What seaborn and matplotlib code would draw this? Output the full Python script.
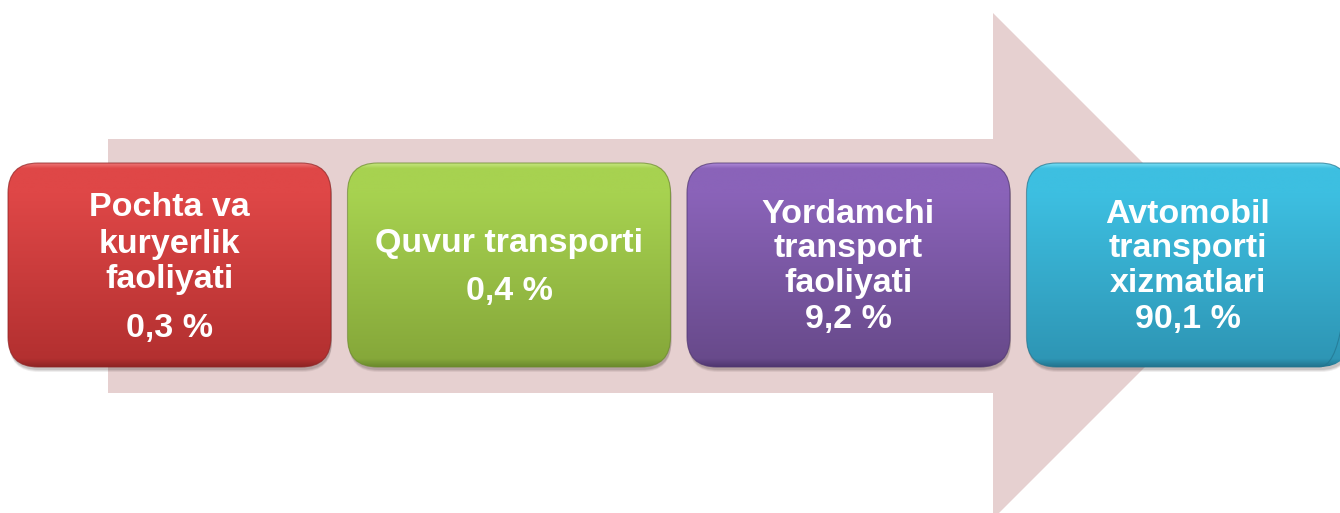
import numpy as np
import matplotlib.pyplot as plt
import seaborn as sns
from matplotlib.patches import FancyBboxPatch, Polygon
from matplotlib.colors import LinearSegmentedColormap

# Ma'lumotlar
categories = [['Pochta va', 'kuryerlik', 'faoliyati'],
              ['Quvur transporti'],
              ['Yordamchi', 'transport', 'faoliyati'],
              ['Avtomobil', 'transporti', 'xizmatlari']]
shares = ['0,3', '0,4', '9,2', '90,1']
rim_colors = ['#EC7474', '#C4E57E', '#AC88D6', '#78DDF3']
top_colors = ['#DF4747', '#A7D250', '#8A63B9', '#3DBFE1']
bottom_colors = ['#B33030', '#86A83A', '#684A8B', '#2E96B5']
edge_colors = ['#8E2424', '#6B8A2C', '#4F3670', '#22748E']

sns.set_theme(style='white')
plt.rcParams['font.family'] = ['Liberation Sans', 'DejaVu Sans']

W, H = 1340, 513
fig = plt.figure(figsize=(W / 100, H / 100), dpi=100)
ax = fig.add_axes([0, 0, 1, 1])
ax.set_xlim(0, W)
ax.set_ylim(H, 0)
ax.axis('off')

# katta o'q (fon)
arrow = Polygon([(108, 139), (993, 139), (993, 13), (1246, 266),
                 (993, 519), (993, 393), (108, 393)],
                closed=True, facecolor='#E6D0D0', edgecolor='none', zorder=1)
ax.add_patch(arrow)

box_w, box_h = 323, 204
gap = 16.5
y0 = 163
# qatorlar tayanch chiziqlari (px)
line_base = [[216, 253, 288], [252], [223, 257, 292], [223, 257, 292]]
value_base = [337, 300, 328, 328]

for i in range(len(categories)):
    x0 = 8 + i * (box_w + gap)
    # soya
    for k, a in [(5, 0.08), (4, 0.1), (3, 0.12)]:
        shadow = FancyBboxPatch((x0 + 1, y0 + k), box_w, box_h,
                                boxstyle='round,pad=0,rounding_size=30',
                                facecolor='#3A2A2A', edgecolor='none',
                                alpha=a, zorder=2)
        ax.add_patch(shadow)
    box = FancyBboxPatch((x0, y0), box_w, box_h,
                         boxstyle='round,pad=0,rounding_size=30',
                         facecolor='none', edgecolor=edge_colors[i],
                         linewidth=0.8, alpha=0.7, zorder=4)
    ax.add_patch(box)
    cmap = LinearSegmentedColormap.from_list(
        f'g{i}', [(0, rim_colors[i]), (0.025, top_colors[i]),
                  (0.15, top_colors[i]), (0.96, bottom_colors[i]),
                  (1, edge_colors[i])])
    grad = np.linspace(0, 1, 512).reshape(-1, 1)
    im = ax.imshow(grad, cmap=cmap, aspect='auto',
                   extent=(x0, x0 + box_w, y0 + box_h, y0), zorder=3)
    im.set_clip_path(box)

    cx = x0 + box_w / 2
    for line, yb in zip(categories[i], line_base[i]):
        ax.text(cx, yb, line, ha='center', va='baseline', color='white',
                fontsize=24.5, fontweight='bold', zorder=5)
    ax.text(cx, value_base[i], f'{shares[i]} %', ha='center', va='baseline',
            color='white', fontsize=24.5, fontweight='bold', zorder=5)

fig.savefig('out.png', dpi=100)
plt.close(fig)
